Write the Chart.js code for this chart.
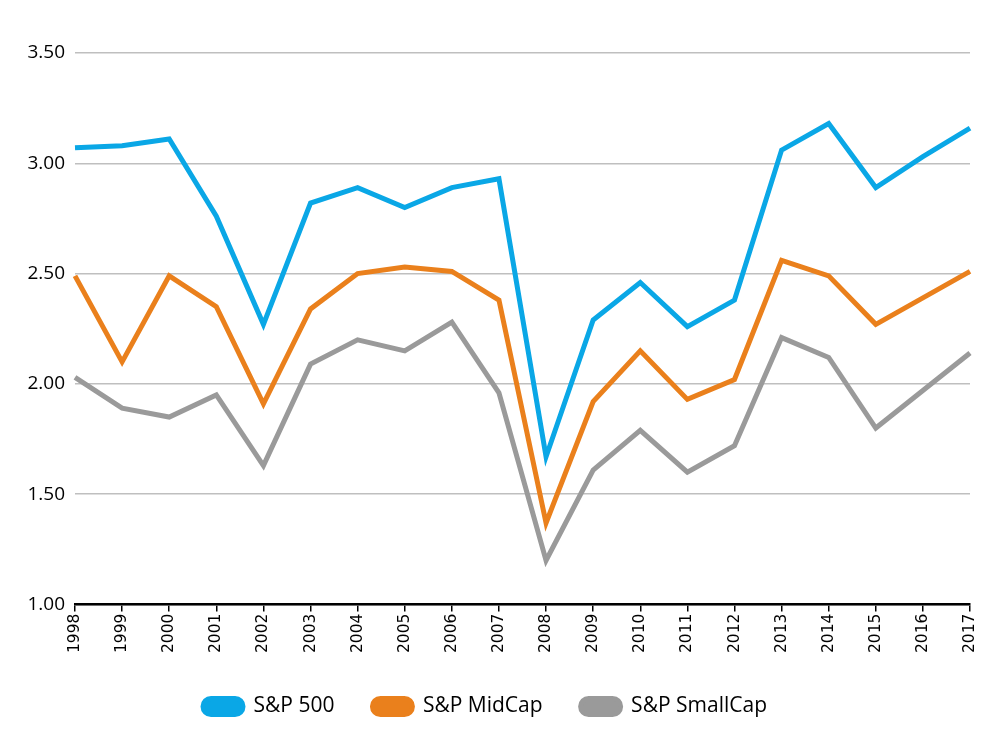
<!DOCTYPE html>
<html>
<head>
<meta charset="utf-8">
<script src="https://cdn.jsdelivr.net/npm/chart.js@4.4.0/dist/chart.umd.min.js"></script>
<style>
  html, body { margin: 0; padding: 0; background: #fff; }
  #wrap { width: 1000px; height: 753px; }
</style>
</head>
<body>
<div id="wrap"><canvas id="chart"></canvas></div>
<script>
const years = ["1998", "1999", "2000", "2001", "2002", "2003", "2004", "2005", "2006", "2007",
  "2008", "2009", "2010", "2011", "2012", "2013", "2014", "2015", "2016", "2017"];
const sp500 = [3.07, 3.08, 3.11, 2.76, 2.27, 2.82, 2.89, 2.80, 2.89, 2.93,
  1.67, 2.29, 2.46, 2.26, 2.38, 3.06, 3.18, 2.89, 3.03, 3.16];
const midCap = [2.49, 2.10, 2.49, 2.35, 1.91, 2.34, 2.50, 2.53, 2.51, 2.38,
  1.37, 1.92, 2.15, 1.93, 2.02, 2.56, 2.49, 2.27, 2.39, 2.51];
const smallCap = [2.03, 1.89, 1.85, 1.95, 1.63, 2.09, 2.20, 2.15, 2.28, 1.96,
  1.20, 1.61, 1.79, 1.60, 1.72, 2.21, 2.12, 1.80, 1.97, 2.14];
const yTicks = [1.0, 1.5, 2.0, 2.5, 3.0, 3.5];

const series = (label, data, color) => ({
  label, data,
  borderColor: color, backgroundColor: color,
  borderWidth: 5, pointRadius: 0, tension: 0,
  borderJoinStyle: "miter", borderCapStyle: "butt",
});

new Chart(document.getElementById("chart"), {
  type: "line",
  data: {
    labels: years,
    datasets: [
      series("S&P 500", sp500, "#0aa7e6"),
      series("S&P MidCap", midCap, "#ea801c"),
      series("S&P SmallCap", smallCap, "#9a9a9a"),
    ],
  },
  options: {
    responsive: true,
    maintainAspectRatio: false,
    animation: false,
    layout: { padding: { left: 0, right: 30, top: 53, bottom: 26 } },
    scales: {
      x: {
        offset: false,
        afterFit: (s) => { s.height += 3; },
        grid: { drawOnChartArea: false, drawTicks: true, tickLength: 7, color: "#000", lineWidth: 1.5 },
        border: { color: "#000", width: 2.5 },
        ticks: {
          autoSkip: false, maxRotation: 90, minRotation: 90, padding: 2,
          color: "#000", font: { family: "DejaVu Sans", size: 15.5 },
        },
      },
      y: {
        min: 1, max: 3.5,
        afterFit: (s) => { s.width = 75; },
        afterBuildTicks: (s) => { s.ticks = yTicks.map((v) => ({ value: v })); },
        grid: { color: "#bfbfbf", lineWidth: 1.5, drawTicks: false },
        border: { display: false },
        ticks: {
          padding: 10, color: "#000",
          font: { family: "Open Sans", size: 19 },
          callback: (v) => Number(v).toFixed(2),
        },
      },
    },
    plugins: {
      tooltip: { enabled: false },
      legend: {
        position: "bottom",
        labels: {
          boxWidth: 40, boxHeight: 16, padding: 38,
          useBorderRadius: true, borderRadius: 8,
          color: "#000", font: { family: "Open Sans", size: 21 },
        },
      },
    },
  },
});
</script>
</body>
</html>
